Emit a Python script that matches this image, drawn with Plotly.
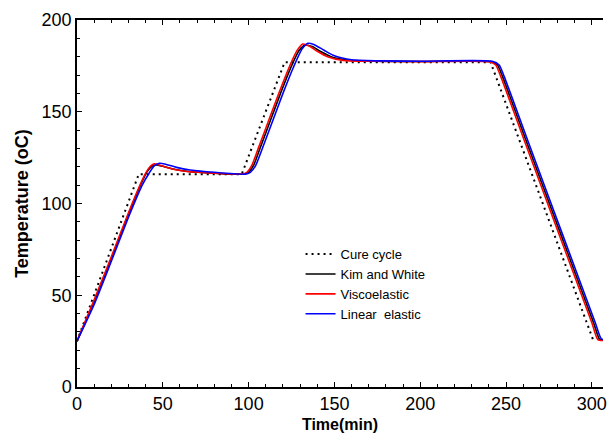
import plotly.graph_objects as go

# Prescribed cure cycle (time in min, temperature in degC)
cure_time = [0, 36, 96, 121, 241, 301]
cure_temp = [25, 116, 116, 177, 177, 25]

# Kim and White model
kw_time = [0, 10, 20, 30, 37, 41, 44, 46, 50, 56, 65, 80, 97,
           100, 103, 107, 113, 119, 125, 129.5, 133, 137, 142, 148, 157, 172, 200, 241,
           245, 248, 261, 281, 301, 304.5, 307]
kw_temp = [25, 46.5, 70, 94, 110, 117.5, 120.5, 121, 120.3, 118.8, 117.4, 116.5, 116,
           117, 121, 131, 146, 161, 175, 183.5, 186.3, 185.5, 182.8, 180, 178.2, 177.6, 177.4, 177.3,
           175.5, 169, 136, 85.5, 35, 26, 25.5]

# Viscoelastic model
ve_time = [0, 10, 20, 30, 36, 40, 43, 45, 48, 53, 60, 70, 85, 96,
           99, 102, 106, 112, 118, 124, 128, 131.5, 135, 140, 146, 155, 170, 200, 240,
           244, 247, 260, 280, 300, 303.5, 307]
ve_temp = [25, 47.5, 71, 95, 108.5, 116.5, 120.5, 121.6, 121, 119.5, 118, 117, 116.3, 116.1,
           117, 121, 131, 146, 161, 175, 183, 186.9, 186, 183, 180, 178, 177.5, 177.3, 177.2,
           175.5, 169, 136, 85.5, 35, 25.8, 25.3]

# Linear elastic model
le_time = [0, 10, 20, 30, 38, 42, 45, 48, 52, 58, 66, 80, 98,
           101, 104, 108, 114, 120, 126, 131, 134.5, 138, 144, 150, 160, 175, 200, 242,
           246, 249, 262, 282, 302, 305.5, 308]
le_temp = [25, 45, 68.5, 92.5, 110, 116.5, 120.5, 121.9, 121.3, 119.7, 118.3, 117, 116,
           117, 120.5, 130, 145, 160, 174, 184, 187.3, 186.7, 183.5, 180.5, 178.3, 177.7, 177.5, 177.5,
           175.5, 169, 136, 85.5, 35, 26.2, 25.7]

fig = go.Figure()

fig.add_trace(go.Scatter(x=cure_time, y=cure_temp, mode="lines", name="Cure cycle",
                         line=dict(color="black", width=2, dash="2px,4px")))
fig.add_trace(go.Scatter(x=kw_time, y=kw_temp, mode="lines", name="Kim and White",
                         line=dict(color="black", width=1.6, shape="spline", smoothing=0.6)))
fig.add_trace(go.Scatter(x=ve_time, y=ve_temp, mode="lines", name="Viscoelastic",
                         line=dict(color="#ff0000", width=1.6, shape="spline", smoothing=0.6)))
fig.add_trace(go.Scatter(x=le_time, y=le_temp, mode="lines", name="Linear  elastic",
                         line=dict(color="#0000ff", width=1.6, shape="spline", smoothing=0.6)))

FAMILY = "Liberation Sans, Arial, sans-serif"
axis_font = dict(family=FAMILY, size=18, color="black")

fig.update_layout(
    width=607, height=440,
    margin=dict(l=77, r=0, t=20, b=53),
    paper_bgcolor="white", plot_bgcolor="white",
    showlegend=True,
    legend=dict(x=0.425, y=0.403, xanchor="left", yanchor="top",
                bgcolor="rgba(0,0,0,0)", borderwidth=0,
                font=dict(family=FAMILY, size=13, color="black"),
                tracegroupgap=0),
    font=dict(family=FAMILY, color="black"),
)

fig.update_xaxes(
    range=[0, 306.5], tick0=0, dtick=50,
    showgrid=False, zeroline=False,
    showline=True, linecolor="black", linewidth=1.5, mirror="allticks",
    ticks="inside", ticklen=5, tickwidth=1.2, tickcolor="black",
    minor=dict(dtick=10, ticks="inside", ticklen=3, tickwidth=1, tickcolor="black"),
    tickfont=axis_font, ticklabeloverflow="allow",
    title=dict(text="<b>Time(min)</b>", font=dict(family=FAMILY, size=16, color="black"),
               standoff=5),
)
fig.update_yaxes(
    range=[0, 200], tick0=0, dtick=50,
    showgrid=False, zeroline=False,
    showline=True, linecolor="black", linewidth=1.5, mirror=False,
    ticks="inside", ticklen=5, tickwidth=1.2, tickcolor="black",
    minor=dict(dtick=10, ticks="inside", ticklen=3, tickwidth=1, tickcolor="black"),
    tickfont=axis_font,
    title=dict(text="<b>Temperature (oC)</b>", font=dict(family=FAMILY, size=18, color="black"),
               standoff=8),
)

fig.write_html("out.html")
